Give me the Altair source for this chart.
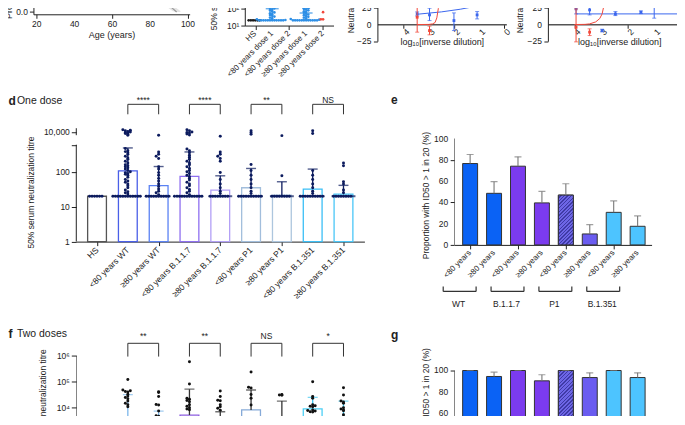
import json
import altair as alt
import pandas as pd

FONT = "Liberation Sans"
INK = "#222222"
NAVY = "#0c1b5e"
BLUE_C = "#3a66ee"
RED_C = "#f2483a"
SUP = ["⁰", "¹", "²", "³", "⁴", "⁵", "⁶", "⁷", "⁸", "⁹"]
SUP_EXPR = "'10' + " + json.dumps(SUP, ensure_ascii=False) + "[round(log(datum.value)/LN10)]"

# ---------------- panel a data ----------------
a_age = [80, 82, 84, 86, 88, 90, 92, 94]
a_prob = [0.36, 0.31, 0.25, 0.195, 0.145, 0.094, 0.044, 0.0]
a_band_age = [80, 82, 84, 86, 88, 90, 92, 94, 96]
a_band_lo = [0.29, 0.24, 0.19, 0.14, 0.09, 0.045, 0.01, 0.0, 0.0]
a_band_hi = [0.43, 0.38, 0.32, 0.26, 0.21, 0.155, 0.10, 0.05, 0.012]
a_xticks = [20, 40, 60, 80, 100]

# ---------------- panel b data ----------------
b_cats = ["HS", "<80 years dose 1", "<80 years dose 2", "≥80 years dose 1", "≥80 years dose 2"]
b_colors = ["#1a1a1a", "#2e8fe6", "#f2473b", "#2e8fe6", "#f2473b"]
b_pts = [
    [20, 20, 20, 20, 20, 20],
    [900, 600, 400, 300, 220, 160, 130, 115, 100, 90, 82, 74, 66, 58, 52, 46, 41, 37, 33, 29, 26, 23, 21,
     20, 20, 20, 20, 20, 20, 20, 20, 20, 20, 20, 20],
    [149],
    [700, 300, 180, 140, 118, 104, 92, 84, 76, 68, 61, 55, 49, 44, 40, 36, 32, 29, 26, 24, 22,
     20, 20, 20, 20, 20, 20, 20, 20, 20, 20, 20, 20],
    [2500, 1500, 900, 600, 450, 380, 320, 270, 230, 200, 180, 160, 140, 125, 60, 23, 23],
]
b_stat_idx = [1, 3, 4]
b_mean = [96, 54, 260]
b_sd_lo = [21, 23, 130]
b_sd_hi = [450, 100, 520]

# ---------------- panel c data ----------------
c_xticks = [0, 1, 2, 3, 4]
c_yticks = [-25, 0, 25, 50, 75, 100]
c1_blue_x = [3.46, 2.97, 2.53, 2.0, 1.54, 1.08, 0.62]
c1_blue_y = [16, 14.5, 34.4, 6, 29.5, 14.5, 36]
c1_blue_lo = [13, 6, 30, -9, 26, 8.5, 31]
c1_blue_hi = [19, 24.5, 38.5, 17.5, 32.5, 19.5, 38.5]
c1_bfit_x = [3.46, 2.5, 1.75, 1.2, 0.62]
c1_bfit_y = [15.5, 19, 23, 27, 33.5]
c1_red_x = [3.46, 2.97]
c1_red_y = [11, -9]
c1_red_lo = [-11.4, -15.4]
c1_red_hi = [33.5, -2.4]
c1_rfit_x = [3.46, 3.0, 2.85, 2.75, 2.68, 2.62, 2.55, 2.5]
c1_rfit_y = [0, 0.2, 1, 3, 10, 24, 40, 60]

c2_blue_x = [3.94, 3.43, 2.96, 2.46, 1.5, 1.0]
c2_blue_y = [23.5, 22, -9, 16, 18.6, 27.5]
c2_blue_lo = [16, 14.5, -11, 13.5, 16.5, 9.6]
c2_blue_hi = [31, 29.3, -7, 19.5, 20.5, 38.5]
c2_bfit_x = [3.94, -0.3]
c2_bfit_y = [16, 16]
c2_red_x = [3.94, 3.43]
c2_red_y = [-4, -11.4]
c2_red_lo = [-26, -16.5]
c2_red_hi = [23.5, -6.4]
c2_rfit_x = [4.0, 3.6, 3.43, 3.2, 3.05, 2.96, 2.9, 2.86, 2.8]
c2_rfit_y = [0, 0.3, 1, 4, 9, 16, 27, 38.5, 60]

# ---------------- panel d data ----------------
d_cats = ["HS", "<80 years WT", "≥80 years WT", "<80 years B.1.1.7", "≥80 years B.1.1.7",
          "<80 years P1", "≥80 years P1", "<80 years B.1.351", "≥80 years B.1.351"]
d_gmean = [20, 107, 40, 74, 30, 35, 21.5, 32, 23]
d_upper = [20, 485, 142, 372, 77, 125, 52, 120, 41]
d_colors = ["#555555", "#4a5fe8", "#5b82f3", "#8f70f0", "#b3a0f6", "#a2bedc", "#adc6de", "#3bbff6", "#4ac6f7"]
d_lod = 20
d_pts = [
    [20, 20, 20, 20, 20, 20],
    [12000, 11500, 11000, 10500, 10000, 9500, 9000, 8500, 8000, 7200,
     470, 400, 380, 350, 320, 280, 250, 230, 200, 180, 160, 150, 140, 130, 120, 110, 100, 95, 90, 85,
     80, 70, 60, 55, 50, 45, 40, 35, 30, 27, 25, 23,
     20, 20, 20, 20, 20, 20, 20, 20, 20, 20, 20, 20],
    [7300, 370, 320, 280, 240, 140, 120, 95, 80, 65, 55, 45, 38, 32, 28, 25, 22,
     20, 20, 20, 20, 20, 20, 20, 20, 20, 20],
    [12000, 11000, 10000, 9500, 9000, 8200, 7500,
     450, 400, 350, 300, 260, 230, 200, 180, 160, 140, 125, 110, 100, 90, 80, 72, 65, 58, 50, 45, 40,
     35, 31, 28, 25, 22,
     20, 20, 20, 20, 20, 20, 20, 20, 20, 20, 20, 20],
    [6600, 370, 320, 280, 240, 200, 96, 60, 45, 35, 28, 24, 20, 20, 20, 20, 20, 20, 20, 20],
    [11000, 9500, 8000, 163, 110, 80, 60, 45, 35, 28, 24, 20, 20, 20, 20, 20, 20, 20, 20, 20, 20],
    [7000, 77, 20, 20, 20, 20, 20, 20, 20, 20],
    [11000, 8500, 110, 80, 60, 45, 35, 28, 24, 20, 20, 20, 20, 20, 20, 20, 20, 20, 20],
    [180, 150, 52, 45, 30, 25, 20, 20, 20, 20, 20, 20, 20, 20],
]
d_pair_a = [1, 3, 5, 7]
d_pair_b = [2, 4, 6, 8]
d_sig = ["****", "****", "**", "NS"]

# ---------------- panel e data ----------------
e_labels = ["<80 years", "≥80 years"] * 4
e_vals = [76.5, 48.5, 74, 39.5, 46.8, 10.3, 30.6, 17.5]
e_upper = [85, 59.4, 82.8, 50.3, 57.5, 19, 41.3, 27.2]
e_colors = ["#0a62f5", "#0a62f5", "#7b3bef", "#7b3bef", "#5a52d6", "#6a5cf0", "#4dc4ff", "#4dc4ff"]
e_groups = ["WT", "B.1.1.7", "P1", "B.1.351"]
e_group_start = [0, 2, 4, 6]
hatched_idx = 4

# ---------------- panel f data ----------------
f_gmean = [20, 4500, 1500, 5200, 1400, 8200, 900, 9000, 2000]
f_upper = [20, 32000, 7400, 52000, 7000, 48000, 18000, 25000, 18000]
f_colors = ["#555555", "#6b74e0", "#75aee8", "#8d5fe0", "#8d5fe0", "#86aad8", "#86aad8", "#4ccff5", "#4ccff5"]
f_err_colors = ["#444444", "#7ab6ea", "#7ab6ea", "#333333", "#333333", "#333333", "#333333", "#3fc6ef", "#3fc6ef"]
f_pts = [
    [20, 20, 20, 20, 20, 20],
    [123000, 48000, 45000, 42000, 40000, 33000, 28000, 25000, 22000, 18000, 15000, 13000, 11000, 2600, 2500, 1500, 900, 600],
    [41000, 39000, 27000, 13400, 12800, 7400, 4900, 4700, 2900, 2800, 1200, 800, 500],
    [590000, 82000, 23000, 21000, 19000, 17000, 13000, 11500, 10000, 9000, 8300, 2900, 2200, 1500, 900],
    [44000, 27000, 19500, 18500, 13000, 11000, 9500, 8000, 3400, 2200, 1200, 700],
    [240000, 62000, 58000, 32000, 23000, 12700, 3300, 2200, 1500, 800],
    [32000, 31000, 30000, 2200, 2100, 900, 500],
    [100000, 27000, 23000, 13000, 12000, 11500, 11000, 8200, 7800, 7400, 7000, 6800, 2900, 1800],
    [59000, 31000, 18000, 16500, 15000, 10000, 9000, 8200, 7600, 5400, 4500, 3500, 2200, 1500],
]
f_sig = ["**", "**", "NS", "*"]

# ---------------- panel g data ----------------
g_vals = [100, 94.4, 100, 90.3, 100, 93.4, 100, 93.4]
g_upper = [100, 98.4, 100, 96, 100, 97.8, 100, 97.8]


# =============== helpers ===============
def X(field, scale, axis=None):
    return alt.X(field, scale=scale) if axis is None else alt.X(field, scale=scale, axis=axis)


def Y(field, scale, axis=None):
    return alt.Y(field, scale=scale) if axis is None else alt.Y(field, scale=scale, axis=axis)


def txt(s, x, y, size, weight="normal", align="left", baseline="middle", color=INK):
    return alt.Chart(pd.DataFrame({"t": [s]})).mark_text(
        align=align, baseline=baseline, font=FONT, fontSize=size, fontWeight=weight, color=color
    ).encode(x=alt.value(x), y=alt.value(y), text="t:N")


def cat_labels(names, xs, ypix, size=8.5):
    df = pd.DataFrame({"idx": list(range(len(names))), "name": names})
    return alt.Chart(df).mark_text(angle=315, align="right", baseline="middle", font=FONT, fontSize=size,
                                   color=INK).encode(x=X("idx:Q", xs), y=alt.value(ypix), text="name:N")


def num_labels_x(vals, xs, ypix, angle=0, size=8.5):
    df = pd.DataFrame({"v": vals, "s": [str(v) for v in vals]})
    return alt.Chart(df).mark_text(angle=angle, align="center", baseline="top", font=FONT, fontSize=size,
                                   color=INK).encode(x=X("v:Q", xs), y=alt.value(ypix), text="s:N")


def num_labels_y(vals, ys, xpix, size=8.5):
    df = pd.DataFrame({"v": vals, "s": [str(v).replace("-", "−") for v in vals]})
    return alt.Chart(df).mark_text(align="right", baseline="middle", font=FONT, fontSize=size,
                                   color=INK).encode(x=alt.value(xpix), y=Y("v:Q", ys), text="s:N")


def anchor(x, y0, y1):
    return alt.Chart(pd.DataFrame({"z": [0]})).mark_rule(color="white", strokeWidth=1).encode(
        x=alt.value(x), y=alt.value(y0), y2=alt.value(y1))


def sp(w, h=1):
    return alt.Chart(pd.DataFrame({"z": [0]})).mark_point(opacity=0, size=1).encode(
        x=alt.value(w / 2), y=alt.value(h / 2)).properties(width=w, height=h)


def points_df(lists):
    rows = []
    for i, vals in enumerate(lists):
        for v in vals:
            rows.append({"idx": i, "v": v})
    return pd.DataFrame(rows)


def dot_layer(df, xs, ys, px_per_dec, unit_px, color_enc, size, step_px=2.5, bin_px=2.6, clip=False,
              xaxis=None, yaxis=None):
    return alt.Chart(df).transform_calculate(
        bn=f"floor(log(datum.v) / LN10 * {px_per_dec / bin_px})"
    ).transform_window(
        rn="row_number()", groupby=["idx", "bn"], sort=[alt.SortField("v", order="ascending")]
    ).transform_calculate(
        xp=f"datum.idx + (datum.rn % 2 == 1 ? 1 : -1) * floor(datum.rn / 2) * {step_px / unit_px}"
    ).mark_circle(size=size, opacity=1, clip=clip).encode(
        x=X("xp:Q", xs, xaxis), y=Y("v:Q", ys, yaxis), color=color_enc)


def hatch_fill(w, h, light, dark, period=2.6):
    r = w / h
    s = (1 + r) / (1 + r * r)
    n = max(4, int(round((w + h) / 1.4142 / period)))
    stops = []
    for k in range(n):
        stops.append({"offset": k / n, "color": light})
        stops.append({"offset": (k + 0.6) / n, "color": light})
        stops.append({"offset": (k + 0.6) / n, "color": dark})
        stops.append({"offset": (k + 1) / n, "color": dark})
    return {"gradient": "linear", "x1": 0, "y1": 0, "x2": r * s, "y2": s, "stops": stops}


# =============== panel a ===============
A_H = 125.7
xs_a = alt.Scale(domain=[18.2, 100.9], nice=False, zero=False)
ys_a = alt.Scale(domain=[-0.03, 1.607], nice=False, zero=False)
a_band = alt.Chart(pd.DataFrame({"age": a_band_age, "lo": a_band_lo, "hi": a_band_hi})).mark_area(
    color="#e4e4e4").encode(
    x=X("age:Q", xs_a, alt.Axis(values=a_xticks, labels=False, title="Age (years)", titleFontSize=9,
                                titlePadding=12)),
    y=Y("lo:Q", ys_a, alt.Axis(values=[0], title="Probability", titleX=-20, titleY=109, titleFontSize=9)),
    y2="hi:Q")
a_line = alt.Chart(pd.DataFrame({"age": a_age, "p": a_prob})).mark_line(color="#9a9a9a", strokeWidth=1.3).encode(
    x=X("age:Q", xs_a), y=Y("p:Q", ys_a))
panel_a = alt.layer(a_band, a_line, num_labels_x(a_xticks, xs_a, A_H + 6), anchor(-33.3, 0, 200)).properties(
    width=156.7, height=A_H)

# =============== panel b ===============
B_H = 137
xs_b = alt.Scale(domain=[-0.618, 4.618], nice=False, zero=False)
ys_b = alt.Scale(type="log", domain=[10, 10 ** (1 + B_H / 17.3)], nice=False)
b_col = alt.Color("idx:O", scale=alt.Scale(domain=list(range(5)), range=b_colors), legend=None)
b_dots = dot_layer(points_df(b_pts), xs_b, ys_b, 17.3, 17, b_col, 7, step_px=2.2, bin_px=2.2,
                   xaxis=alt.Axis(values=list(range(5)), labels=False, title=None),
                   yaxis=alt.Axis(values=[10, 100, 1000, 10000], labelExpr=SUP_EXPR,
                                  title="50% serum neutralization titre", titleX=-26.2, titleY=85))
b_stats = pd.DataFrame({"idx": b_stat_idx, "m": b_mean, "lo": b_sd_lo, "hi": b_sd_hi})
b_rule = alt.Chart(b_stats).mark_rule(strokeWidth=1.2).encode(
    x=X("idx:Q", xs_b), y=Y("lo:Q", ys_b), y2="hi:Q", color=b_col)
b_mean_t = alt.Chart(b_stats).mark_tick(orient="horizontal", size=13, thickness=1.6).encode(
    x=X("idx:Q", xs_b), y=Y("m:Q", ys_b), color=b_col)
b_cap_lo = alt.Chart(b_stats).mark_tick(orient="horizontal", size=8, thickness=1.2).encode(
    x=X("idx:Q", xs_b), y=Y("lo:Q", ys_b), color=b_col)
b_cap_hi = alt.Chart(b_stats).mark_tick(orient="horizontal", size=8, thickness=1.2).encode(
    x=X("idx:Q", xs_b), y=Y("hi:Q", ys_b), color=b_col)
panel_b = alt.layer(b_dots, b_rule, b_mean_t, b_cap_lo, b_cap_hi,
                    cat_labels(b_cats, xs_b, B_H + 7, size=8)).properties(width=89, height=B_H)


# =============== panel c ===============
C_H = 152.7


def panel_c(xdom, width, bx, by, blo, bhi, bfx, bfy, rx, ry, rlo, rhi, rfx, rfy, tx, extra=None):
    xs = alt.Scale(domain=xdom, reverse=True, nice=False, zero=False)
    ys = alt.Scale(domain=[-25, -25 + C_H / 0.668], nice=False, zero=False)
    fit_b = alt.Chart(pd.DataFrame({"x": bfx, "y": bfy})).mark_line(color=BLUE_C, strokeWidth=1).encode(
        x=X("x:Q", xs, alt.Axis(values=c_xticks, labels=False, offset=-17,
                                domainWidth=1.6, domainColor="#555555",
                                title="log₁₀[inverse dilution]", titleY=13,
                                titleBaseline="top", titleFontSize=9)),
        y=Y("y:Q", ys, alt.Axis(values=c_yticks, labels=False, title="Neutralization (%)",
                                titleX=tx, titleY=110.5)))
    fit_r = alt.Chart(pd.DataFrame({"x": rfx, "y": rfy})).mark_line(color=RED_C, strokeWidth=1).encode(
        x=X("x:Q", xs), y=Y("y:Q", ys))
    layers = [fit_b, fit_r, num_labels_x(c_xticks, xs, C_H - 17 + 5, angle=315), num_labels_y(c_yticks, ys, -6)]
    for xx, yy, lo, hi, col in [(bx, by, blo, bhi, BLUE_C), (rx, ry, rlo, rhi, RED_C)]:
        df = pd.DataFrame({"x": xx, "y": yy, "lo": lo, "hi": hi})
        layers.append(alt.Chart(df).mark_rule(color=col, strokeWidth=1).encode(
            x=X("x:Q", xs), y=Y("lo:Q", ys), y2="hi:Q"))
        for f in ["lo", "hi"]:
            layers.append(alt.Chart(df).mark_tick(orient="horizontal", size=4, thickness=1, color=col).encode(
                x=X("x:Q", xs), y=Y(f + ":Q", ys)))
        layers.append(alt.Chart(df).mark_point(shape="square", filled=True, size=8, color=col, opacity=1).encode(
            x=X("x:Q", xs), y=Y("y:Q", ys)))
    if extra is not None:
        layers.append(extra)
    return alt.layer(*layers).properties(width=width, height=C_H)


panel_c1 = panel_c([-0.08, 5.04], 129.3, c1_blue_x, c1_blue_y, c1_blue_lo, c1_blue_hi, c1_bfit_x, c1_bfit_y,
                   c1_red_x, c1_red_y, c1_red_lo, c1_red_hi, c1_rfit_x, c1_rfit_y, -21.7)
panel_c2 = panel_c([-0.375, 5.0], 143.3, c2_blue_x, c2_blue_y, c2_blue_lo, c2_blue_hi, c2_bfit_x, c2_bfit_y,
                   c2_red_x, c2_red_y, c2_red_lo, c2_red_hi, c2_rfit_x, c2_rfit_y, -23.4,
                   extra=anchor(153.3, 100, 150))


# =============== panels d and f (titres) ===============
def titre_panel(pts, gm, up, colors, err_colors, xs, ys, px_dec, height, yvals, ylabel_expr, axis_rules,
                sig, title_x, title_y, show_x, clip, bracket_y, letter, subtitle, letter_y, dot_color, lod):
    n = len(gm)
    summ = pd.DataFrame({"idx": list(range(n)), "gm": gm, "up": up, "base": [1] * n, "lod": [lod] * n})
    stroke = alt.Stroke("idx:O", scale=alt.Scale(domain=list(range(n)), range=colors), legend=None)
    ecol = alt.Color("idx:O", scale=alt.Scale(domain=list(range(n)), range=err_colors), legend=None)
    if show_x:
        xaxis = alt.Axis(values=list(range(n)), labels=False, title=None)
    else:
        xaxis = alt.Axis(values=list(range(n)), labels=False, ticks=False, domain=False, title=None)
    bars = alt.Chart(summ).transform_calculate(x0="datum.idx - 0.305", x1="datum.idx + 0.305").mark_bar(
        fill="white", strokeWidth=1.3, clip=clip).encode(
        x=X("x0:Q", xs, xaxis), x2="x1:Q",
        y=Y("gm:Q", ys, alt.Axis(values=yvals, labelExpr=ylabel_expr, domain=False,
                                 title="50% serum neutralization titre", titleX=title_x,
                                 titleY=title_y, tickSize=5)),
        y2="base:Q", stroke=stroke)
    sub = summ[summ["idx"] > 0]
    base_t = alt.Chart(sub).mark_tick(orient="horizontal", size=24, thickness=2, color=dot_color, clip=clip).encode(
        x=X("idx:Q", xs), y=Y("lod:Q", ys))
    whisk = alt.Chart(sub).mark_rule(strokeWidth=1.3, clip=clip).encode(
        x=X("idx:Q", xs), y=Y("gm:Q", ys), y2="up:Q", color=ecol)
    caps = alt.Chart(sub).mark_tick(orient="horizontal", size=10, thickness=1.4, clip=clip).encode(
        x=X("idx:Q", xs), y=Y("up:Q", ys), color=ecol)
    dots = dot_layer(points_df(pts), xs, ys, px_dec, 30.9, alt.value(dot_color), 9, clip=clip)
    arule = alt.Chart(pd.DataFrame(axis_rules)).mark_rule(color=INK, strokeWidth=1, clip=clip).encode(
        x=alt.value(0), y=Y("lo:Q", ys), y2="hi:Q")
    br = pd.DataFrame({"a": d_pair_a, "b": d_pair_b, "s": sig})
    by_line, by_leg, by_txt = bracket_y
    br_h = alt.Chart(br).mark_rule(color="#333333", strokeWidth=1).encode(
        x=X("a:Q", xs), x2="b:Q", y=alt.value(by_line))
    br_legs = alt.Chart(br).transform_fold(["a", "b"], as_=["k", "p"]).mark_rule(
        color="#333333", strokeWidth=1).encode(
        x=X("p:Q", xs), y=alt.value(by_line), y2=alt.value(by_leg))
    br_txt = alt.Chart(br).transform_calculate(m="(datum.a + datum.b) / 2").mark_text(
        font=FONT, fontSize=8.5, color=INK, baseline="middle").encode(
        x=X("m:Q", xs), y=alt.value(by_txt), text="s:N")
    t1 = txt(letter, -68, letter_y, 12, weight="bold")
    t2 = txt(subtitle, -59.5, letter_y, 10.5)
    layers = [bars, base_t, whisk, caps, dots, arule, br_h, br_legs, br_txt, t1, t2]
    if show_x:
        layers.append(cat_labels(d_cats, xs, height + 7))
    return alt.layer(*layers).properties(width=289, height=height)


xs_d = alt.Scale(domain=[-0.673, 8.68], nice=False, zero=False)
ys_d = alt.Scale(type="log", domain=[1, 600, 6000, 10000, 15000, 1e7], range=[146.7, 49.5, 42, 36.7, 32, 0],
                 nice=False)
panel_d = titre_panel(d_pts, d_gmean, d_upper, d_colors, [NAVY] * 9, xs_d, ys_d, 35, 146.7,
                      [1, 10, 100, 600, 10000], "datum.value == 600 ? '' : format(datum.value, ',')",
                      [{"lo": 1, "hi": 600}, {"lo": 7300, "hi": 13800}], d_sig, -41, 97, True, False,
                      (9, 19, 4.7), "d", "One dose", 5.7, NAVY, d_lod)

ys_f = alt.Scale(type="log", domain=[10 ** (6 - (440 - 354.3) / 26), 10 ** (6 + 24.3 / 26)], nice=False)
panel_f = titre_panel(f_pts, f_gmean, f_upper, f_colors, f_err_colors, xs_d, ys_f, 26, 110,
                      [1000, 10000, 100000, 1000000], SUP_EXPR, [{"lo": 10, "hi": 1e6}], f_sig, -29.3, 73.5,
                      False, True, (11.7, 25, 4.5), "f", "Two doses", 2.7, "#111111", d_lod)


# =============== panels e and g (proportions) ===============
def prop_panel(vals, upper, ys, height, yvals, px_unit, title_y, show_x, letter_y):
    n = len(vals)
    xs = alt.Scale(domain=[-0.667, 7.583], nice=False, zero=False)
    df = pd.DataFrame({"idx": list(range(n)), "v": vals, "up": upper, "base": [0] * n})
    fill = alt.Fill("idx:O", scale=alt.Scale(domain=list(range(n)), range=e_colors), legend=None)
    if show_x:
        xaxis = alt.Axis(values=list(range(n)), labels=False, title=None)
    else:
        xaxis = alt.Axis(values=list(range(n)), labels=False, ticks=False, domain=False, title=None)
    bars = alt.Chart(df).transform_calculate(x0="datum.idx - 0.3125", x1="datum.idx + 0.3125").mark_bar(
        stroke="#333333", strokeWidth=1, clip=True).encode(
        x=X("x0:Q", xs, xaxis), x2="x1:Q",
        y=Y("v:Q", ys, alt.Axis(values=yvals, labels=False, domain=False,
                                title="Proportion with ID50 > 1 in 20 (%)", titleX=-23.3,
                                titleY=title_y)),
        y2="base:Q", fill=fill)
    hv = vals[hatched_idx]
    hatch = alt.Chart(df[df["idx"] == hatched_idx]).transform_calculate(
        x0="datum.idx - 0.3125", x1="datum.idx + 0.3125").mark_bar(
        stroke="#333333", strokeWidth=1, clip=True, fill=hatch_fill(15, hv * px_unit, "#6d66e6", "#3f3aa6")).encode(
        x=X("x0:Q", xs), x2="x1:Q", y=Y("v:Q", ys), y2="base:Q")
    err = alt.Chart(df).mark_rule(color="#777777", strokeWidth=1.1, clip=True).encode(
        x=X("idx:Q", xs), y=Y("v:Q", ys), y2="up:Q")
    cap = alt.Chart(df).mark_tick(orient="horizontal", size=7, thickness=1.2, color="#777777", clip=True).encode(
        x=X("idx:Q", xs), y=Y("up:Q", ys))
    arule = alt.Chart(pd.DataFrame({"lo": [0], "hi": [100]})).mark_rule(color=INK, clip=True).encode(
        x=alt.value(0), y=Y("lo:Q", ys), y2="hi:Q")
    layers = [bars, hatch, err, cap, arule, num_labels_y(yvals, ys, -6)]
    if show_x:
        layers.append(cat_labels(e_labels, xs, height + 7, size=8))
        gdf = pd.DataFrame({"g": e_groups, "i0": e_group_start})
        gh = alt.Chart(gdf).transform_calculate(xa=f"datum.i0 - {27 / 24}", xb=f"datum.i0 + 1 - {18 / 24}").mark_rule(
            color="#333333", strokeWidth=1.2).encode(
            x=X("xa:Q", xs), x2="xb:Q", y=alt.value(196.7))
        gl = alt.Chart(gdf).transform_calculate(xa=f"datum.i0 - {27 / 24}", xb=f"datum.i0 + 1 - {18 / 24}"
                                                ).transform_fold(["xa", "xb"], as_=["k", "p"]).mark_rule(
            color="#333333", strokeWidth=1.2).encode(
            x=X("p:Q", xs), y=alt.value(191.7), y2=alt.value(196.7))
        gt = alt.Chart(gdf).transform_calculate(xm=f"datum.i0 - {11.5 / 24}").mark_text(
            font=FONT, fontSize=8.5, color=INK, baseline="middle").encode(
            x=X("xm:Q", xs), y=alt.value(209), text="g:N")
        layers += [gh, gl, gt]
    layers.append(txt("e" if show_x else "g", -63.3, letter_y, 12, weight="bold"))
    return alt.layer(*layers).properties(width=198, height=height)


ys_e = alt.Scale(domain=[0, 140.6], nice=False, zero=False)
panel_e = prop_panel(e_vals, e_upper, ys_e, 150, [0, 20, 40, 60, 80, 100], 150 / 140.6, 100, True, 5)
ys_g = alt.Scale(domain=[33.5, 136.5], nice=False, zero=False)
panel_g = prop_panel(g_vals, g_upper, ys_g, 110, [40, 60, 80, 100], 110 / 103, 80, False, 3)


# =============== layout ===============
def lead(y0, y1):
    return alt.layer(
        alt.Chart(pd.DataFrame({"z": [0]})).mark_point(opacity=0, size=1).encode(
            x=alt.value(20), y=alt.value(0.5)),
        anchor(-33.3, y0, y1)).properties(width=42.7, height=1)


IND = dict(color="independent", stroke="independent", fill="independent")
row1 = alt.hconcat(panel_a, sp(54.5), panel_b, sp(43.2), panel_c1, sp(40.7), panel_c2, spacing=0,
                   bounds="flush").resolve_scale(**IND)
row2 = alt.hconcat(lead(-5, 229), panel_d, sp(90), panel_e, spacing=0, bounds="flush").resolve_scale(**IND)
row3 = alt.hconcat(lead(-6, 170), panel_f, sp(90), panel_g, spacing=0, bounds="flush").resolve_scale(**IND)

chart = alt.vconcat(row1, row2, row3, spacing=0).resolve_scale(**IND).properties(
    padding={"left": -8.5, "top": -121, "right": -24.5, "bottom": -87}
).configure_axis(
    labelFont=FONT, titleFont=FONT, labelFontSize=8.5, titleFontSize=8.5, titleFontWeight="normal",
    labelColor=INK, titleColor=INK, domainColor=INK, tickColor=INK, grid=False, tickSize=4,
    labelPadding=2, domainWidth=1, tickWidth=1
).configure_view(stroke=None)

chart.save("out.html", embed_options={"renderer": "svg", "actions": False})
